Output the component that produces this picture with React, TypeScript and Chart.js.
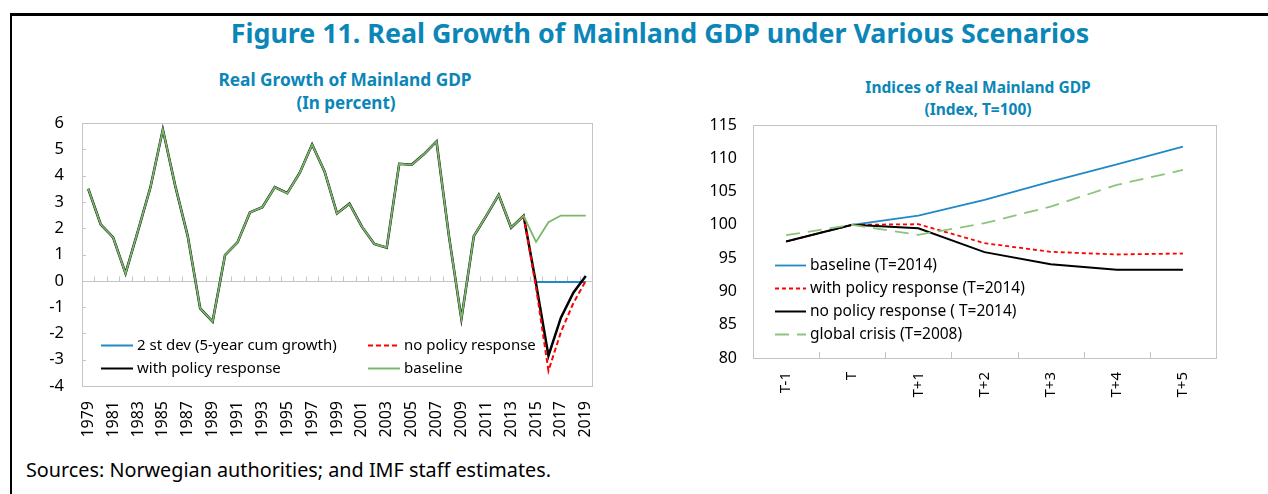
import React, { useEffect, useRef } from "react";
import { Chart, registerables } from "chart.js";
Chart.register(...registerables);

const FONT = '"Noto Sans", "DejaVu Sans", sans-serif';
const TITLE_BLUE = "#0a86b8";
const BLUE = "#1f8ac6";
const GREEN = "#78b868";
const GREEN_LIGHT = "#8cc47c";
const RED = "#ff0000";

// ---------- Left chart: Real growth of mainland GDP (percent) ----------
const growthYears = [
  "1979", "1980", "1981", "1982", "1983", "1984", "1985", "1986", "1987", "1988",
  "1989", "1990", "1991", "1992", "1993", "1994", "1995", "1996", "1997", "1998",
  "1999", "2000", "2001", "2002", "2003", "2004", "2005", "2006", "2007", "2008",
  "2009", "2010", "2011", "2012", "2013", "2014", "2015", "2016", "2017", "2018",
  "2019",
];
const baselineGrowth = [
  3.5, 2.15, 1.65, 0.28, 1.9, 3.55, 5.75, 3.6, 1.7, -1.05,
  -1.55, 0.98, 1.46, 2.6, 2.8, 3.56, 3.33, 4.1, 5.18, 4.16,
  2.56, 2.93, 2.06, 1.4, 1.26, 4.45, 4.41, 4.82, 5.3, 1.7,
  -1.45, 1.7, 2.47, 3.27, 2.02, 2.47, 1.48, 2.23, 2.48, 2.48,
  2.48,
];
const withPolicyGrowth = [
  3.5, 2.15, 1.65, 0.28, 1.9, 3.55, 5.75, 3.6, 1.7, -1.05,
  -1.55, 0.98, 1.46, 2.6, 2.8, 3.56, 3.33, 4.1, 5.18, 4.16,
  2.56, 2.93, 2.06, 1.4, 1.26, 4.45, 4.41, 4.82, 5.3, 1.7,
  -1.45, 1.7, 2.47, 3.27, 2.02, 2.47, -0.1, -2.85, -1.4, -0.45,
  0.18,
];
const noPolicyGrowth = [
  null, null, null, null, null, null, null, null, null, null,
  null, null, null, null, null, null, null, null, null, null,
  null, null, null, null, null, null, null, null, null, null,
  null, null, null, null, null, 2.47, -0.25, -3.42, -1.95, -0.85,
  0.0,
];
const stdevGrowth = [
  null, null, null, null, null, null, null, null, null, null,
  null, null, null, null, null, null, null, null, null, null,
  null, null, null, null, null, null, null, null, null, null,
  null, null, null, null, null, null, -0.05, -0.05, -0.05, -0.05,
  -0.05,
];

// ---------- Right chart: Indices of real mainland GDP (T=100) ----------
const periodLabels = ["T-1", "T", "T+1", "T+2", "T+3", "T+4", "T+5"];
const baselineIndex = [97.5, 100, 101.4, 103.75, 106.5, 109.1, 111.75];
const withPolicyIndex = [97.5, 100, 100.1, 97.25, 95.95, 95.55, 95.7];
const noPolicyIndex = [97.5, 100, 99.5, 95.9, 94.1, 93.25, 93.25];
const globalCrisisIndex = [98.45, 100, 98.5, 100.25, 102.75, 106.0, 108.25];

type LegendItem = { text: string; color: string; dash: number[]; width: number; dx: number; dy: number };

const framePlugin = {
  id: "frame",
  beforeDatasetsDraw(chart: any, _args: any, opts: any) {
    const { ctx, chartArea: a, scales } = chart;
    ctx.save();
    ctx.strokeStyle = "#c4c4c4";
    ctx.lineWidth = 1;
    ctx.strokeRect(Math.round(a.left) + 0.5, Math.round(a.top) + 0.5, Math.round(a.right - a.left), Math.round(a.bottom - a.top));
    const x = scales.x;
    const y = scales.y;
    const n = chart.data.labels.length;
    if (opts.zeroLine) {
      const zy = Math.round(y.getPixelForValue(0)) + 0.5;
      ctx.beginPath();
      ctx.moveTo(a.left, zy);
      ctx.lineTo(a.right, zy);
      for (let i = 0; i < n - 1; i++) {
        const bx = Math.round((x.getPixelForValue(i) + x.getPixelForValue(i + 1)) / 2) + 0.5;
        ctx.moveTo(bx, zy);
        ctx.lineTo(bx, zy - 5);
      }
      ctx.stroke();
    }
    if (opts.yTicks) {
      ctx.beginPath();
      for (const t of y.ticks) {
        const py = Math.round(y.getPixelForValue(t.value)) + 0.5;
        ctx.moveTo(a.left, py);
        ctx.lineTo(a.left + 4, py);
      }
      ctx.stroke();
    }
    if (opts.bottomTicks) {
      ctx.beginPath();
      for (let i = 0; i < n - 1; i++) {
        const bx = Math.round((x.getPixelForValue(i) + x.getPixelForValue(i + 1)) / 2) + 0.5;
        ctx.moveTo(bx, a.bottom);
        ctx.lineTo(bx, a.bottom - 6);
      }
      ctx.stroke();
    }
    ctx.restore();
  },
  afterDatasetsDraw(chart: any, _args: any, opts: any) {
    const { ctx, chartArea: a } = chart;
    const items: LegendItem[] = opts.legend || [];
    ctx.save();
    ctx.font = `${opts.legendSize || 16}px ${FONT}`;
    ctx.textBaseline = "middle";
    ctx.textAlign = "left";
    for (const it of items) {
      const x0 = a.left + it.dx;
      const y0 = Math.round(a.top + it.dy) + 0.5;
      ctx.strokeStyle = it.color;
      ctx.lineWidth = it.width;
      ctx.setLineDash(it.dash);
      ctx.beginPath();
      ctx.moveTo(x0, y0);
      ctx.lineTo(x0 + (opts.sampleLen || 32), y0);
      ctx.stroke();
      ctx.setLineDash([]);
      ctx.fillStyle = "#000";
      ctx.fillText(it.text, x0 + (opts.sampleLen || 32) + 4, y0);
    }
    ctx.restore();
  },
};

function lineDs(label: string, data: (number | null)[], color: string, width: number, dash: number[], order: number) {
  return {
    label,
    data,
    borderColor: color,
    backgroundColor: color,
    borderWidth: width,
    borderDash: dash,
    pointRadius: 0,
    tension: 0,
    fill: false,
    spanGaps: false,
    order,
  };
}

const noPadX = (h: number) => (s: any) => {
  s.height = h;
  s.paddingLeft = 0;
  s.paddingRight = 0;
};
const noPadY = (w: number) => (s: any) => {
  s.width = w;
  s.paddingTop = 0;
  s.paddingBottom = 0;
};

function GrowthChart() {
  const ref = useRef<HTMLCanvasElement>(null);
  useEffect(() => {
    if (!ref.current) return;
    const chart = new Chart(ref.current, {
      type: "line",
      data: {
        labels: growthYears,
        datasets: [
          lineDs("2 st dev (5-year cum growth)", stdevGrowth, BLUE, 2, [], 4),
          lineDs("no policy response", noPolicyGrowth, RED, 2, [5, 3], 2),
          lineDs("with policy response", withPolicyGrowth, "#000000", 2.5, [], 3),
          lineDs("baseline", baselineGrowth, GREEN, 1.8, [], 1),
        ] as any,
      },
      options: {
        animation: false,
        responsive: false,
        maintainAspectRatio: false,
        events: [],
        layout: { padding: { top: 10, right: 8, left: 0, bottom: 0 } },
        plugins: {
          legend: { display: false },
          tooltip: { enabled: false },
          frame: {
            zeroLine: true,
            yTicks: true,
            legendSize: 15,
            sampleLen: 32,
            legend: [
              { text: "2 st dev (5-year cum growth)", color: BLUE, dash: [], width: 2, dx: 19, dy: 222 },
              { text: "no policy response", color: RED, dash: [5, 3], width: 2, dx: 286, dy: 222 },
              { text: "with policy response", color: "#000", dash: [], width: 2, dx: 19, dy: 245 },
              { text: "baseline", color: GREEN, dash: [], width: 2, dx: 286, dy: 245 },
            ],
          },
        } as any,
        scales: {
          x: {
            offset: true,
            grid: { display: false, drawTicks: false },
            border: { display: false },
            ticks: {
              autoSkip: false,
              minRotation: 90,
              maxRotation: 90,
              padding: 15,
              color: "#000",
              font: { family: FONT, size: 16 },
              callback: function (this: any, v: any, i: number) {
                return i % 2 === 0 ? this.getLabelForValue(v) : "";
              },
            },
            afterFit: noPadX(67),
          },
          y: {
            min: -4,
            max: 6,
            grid: { display: false, drawTicks: false },
            border: { display: false },
            ticks: { stepSize: 1, padding: 18, color: "#000", font: { family: FONT, size: 16.5 } },
            afterFit: noPadY(52),
          },
        },
      } as any,
      plugins: [framePlugin],
    });
    return () => chart.destroy();
  }, []);
  return <canvas ref={ref} width={570} height={340} style={{ position: "absolute", left: 30, top: 113, width: 570, height: 340 }} />;
}

function IndexChart() {
  const ref = useRef<HTMLCanvasElement>(null);
  useEffect(() => {
    if (!ref.current) return;
    const chart = new Chart(ref.current, {
      type: "line",
      data: {
        labels: periodLabels,
        datasets: [
          lineDs("baseline (T=2014)", baselineIndex, BLUE, 1.8, [], 4),
          lineDs("with policy response (T=2014)", withPolicyIndex, RED, 1.8, [4, 3], 3),
          lineDs("no policy response ( T=2014)", noPolicyIndex, "#000000", 2, [], 2),
          lineDs("global crisis (T=2008)", globalCrisisIndex, GREEN_LIGHT, 1.8, [14, 8], 1),
        ] as any,
      },
      options: {
        animation: false,
        responsive: false,
        maintainAspectRatio: false,
        events: [],
        layout: { padding: { top: 10, right: 14, left: 0, bottom: 0 } },
        plugins: {
          legend: { display: false },
          tooltip: { enabled: false },
          frame: {
            bottomTicks: true,
            legendSize: 15.5,
            sampleLen: 31,
            legend: [
              { text: "baseline (T=2014)", color: BLUE, dash: [], width: 1.8, dx: 22, dy: 140 },
              { text: "with policy response (T=2014)", color: RED, dash: [4, 3], width: 1.8, dx: 22, dy: 163 },
              { text: "no policy response ( T=2014)", color: "#000", dash: [], width: 2, dx: 22, dy: 186 },
              { text: "global crisis (T=2008)", color: GREEN_LIGHT, dash: [14, 8], width: 1.8, dx: 22, dy: 209 },
            ],
          },
        } as any,
        scales: {
          x: {
            offset: true,
            grid: { display: false, drawTicks: false },
            border: { display: false },
            ticks: {
              autoSkip: false,
              minRotation: 90,
              maxRotation: 90,
              padding: 14,
              color: "#000",
              font: { family: FONT, size: 15 },
            },
            afterFit: noPadX(57),
          },
          y: {
            min: 80,
            max: 115,
            grid: { display: false, drawTicks: false },
            border: { display: false },
            ticks: { stepSize: 5, padding: 16, color: "#000", font: { family: FONT, size: 16 } },
            afterFit: noPadY(53),
          },
        },
      } as any,
      plugins: [framePlugin],
    });
    return () => chart.destroy();
  }, []);
  return <canvas ref={ref} width={530} height={300} style={{ position: "absolute", left: 700, top: 115, width: 530, height: 300 }} />;
}

const centered = (cx: number, cy: number, size: number, extra: any = {}) => ({
  position: "absolute" as const,
  left: cx - 500,
  width: 1000,
  top: cy - size * 0.7,
  lineHeight: `${size * 1.4}px`,
  fontSize: size,
  textAlign: "center" as const,
  fontFamily: FONT,
  fontWeight: 700,
  color: TITLE_BLUE,
  whiteSpace: "nowrap" as const,
  ...extra,
});

export default function App() {
  return (
    <div style={{ position: "fixed", left: 0, top: 0, width: 1268, height: 494, overflow: "hidden", background: "#fff" }}>
      <div style={{ position: "absolute", left: 10, top: 13, width: 1300, height: 520, borderTop: "3px solid #000", borderLeft: "2px solid #000" }} />
      <div style={centered(660, 33, 26.8)}>Figure 11. Real Growth of Mainland GDP under Various Scenarios</div>
      <div style={centered(345, 80, 17.3)}>Real Growth of Mainland GDP</div>
      <div style={centered(346, 103, 17)}>(In percent)</div>
      <div style={centered(978, 88, 15.5)}>Indices of Real Mainland GDP</div>
      <div style={centered(978, 110, 15.5)}>(Index, T=100)</div>
      <GrowthChart />
      <IndexChart />
      <div style={{ position: "absolute", left: 26, top: 457, fontSize: 19.8, lineHeight: "26px", fontFamily: FONT, color: "#000", whiteSpace: "nowrap" }}>
        Sources: Norwegian authorities; and IMF staff estimates.
      </div>
    </div>
  );
}
